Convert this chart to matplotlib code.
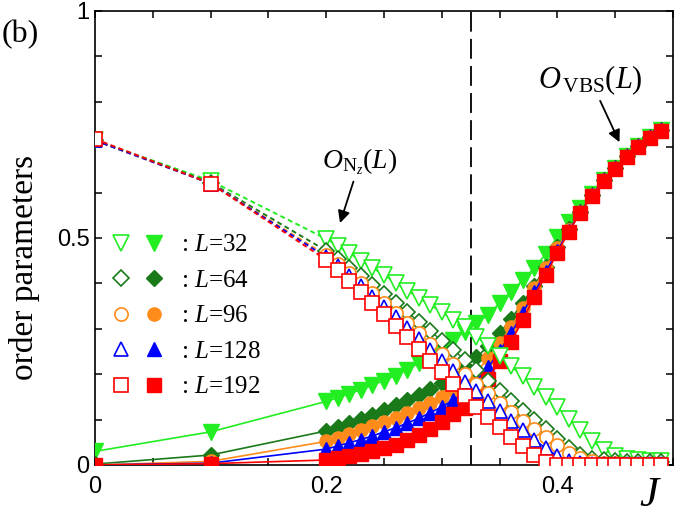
import numpy as np
import matplotlib
matplotlib.use("Agg")
import matplotlib.pyplot as plt
from matplotlib.lines import Line2D
from matplotlib.legend_handler import HandlerTuple

plt.rcParams['mathtext.fontset'] = 'custom'
plt.rcParams['mathtext.rm'] = 'Liberation Serif'
plt.rcParams['mathtext.it'] = 'Liberation Serif:italic'

# coupling values
J = [0.0, 0.1, 0.2, 0.21, 0.22, 0.23, 0.24, 0.25, 0.26, 0.27, 0.28, 0.29,
     0.30, 0.31, 0.32, 0.33, 0.34, 0.35, 0.36, 0.37, 0.38, 0.39,
     0.40, 0.41, 0.42, 0.43, 0.44, 0.45, 0.46, 0.47, 0.48, 0.49]

sizes = [32, 64, 96, 128, 192]

# O_Nz(L): open symbols
nz_32 = [0.715, 0.626, 0.498, 0.482, 0.466, 0.45, 0.434, 0.418, 0.401, 0.384, 0.368, 0.352,
         0.336, 0.32, 0.304, 0.283, 0.261, 0.239, 0.217, 0.195, 0.172, 0.15,
         0.128, 0.102, 0.076, 0.052, 0.034, 0.02, 0.014, 0.011, 0.009, 0.008]
nz_64 = [0.715, 0.622, 0.472, 0.454, 0.435, 0.416, 0.397, 0.377, 0.357, 0.337, 0.316, 0.295,
         0.274, 0.253, 0.232, 0.21, 0.186, 0.162, 0.14, 0.12, 0.1, 0.08,
         0.058, 0.038, 0.022, 0.014, 0.01, 0.008, 0.007, 0.007, 0.006, 0.006]
nz_96 = [0.715, 0.62, 0.462, 0.443, 0.422, 0.401, 0.379, 0.357, 0.335, 0.313, 0.29, 0.267,
         0.244, 0.222, 0.2, 0.179, 0.158, 0.137, 0.117, 0.098, 0.079, 0.061,
         0.043, 0.027, 0.015, 0.008, 0.005, 0.004, 0.003, 0.003, 0.003, 0.003]
nz_128 = [0.715, 0.62, 0.458, 0.438, 0.416, 0.394, 0.371, 0.348, 0.325, 0.302, 0.278, 0.254,
          0.23, 0.206, 0.183, 0.162, 0.14, 0.118, 0.097, 0.076, 0.056, 0.037,
          0.02, 0.009, 0.004, 0.003, 0.002, 0.002, 0.002, 0.002, 0.002, 0.002]
nz_192 = [0.718, 0.62, 0.452, 0.43, 0.406, 0.382, 0.357, 0.332, 0.307, 0.282, 0.256, 0.23,
          0.204, 0.178, 0.152, 0.128, 0.106, 0.084, 0.062, 0.041, 0.022, 0.006,
          0.0, 0.0, 0.0, 0.0, 0.0, 0.0, 0.0, 0.0, 0.0, 0.0]

# O_VBS(L): filled symbols
vbs_32 = [0.03, 0.073, 0.14, 0.148, 0.157, 0.166, 0.176, 0.186, 0.197, 0.21, 0.224, 0.24,
          0.257, 0.275, 0.294, 0.313, 0.33, 0.357, 0.382, 0.407, 0.434, 0.465,
          0.503, 0.536, 0.566, 0.597, 0.628, 0.655, 0.68, 0.702, 0.722, 0.737]
vbs_64 = [0.002, 0.022, 0.075, 0.083, 0.092, 0.101, 0.111, 0.121, 0.132, 0.143, 0.155, 0.167,
          0.18, 0.196, 0.215, 0.237, 0.262, 0.29, 0.322, 0.357, 0.395, 0.437,
          0.48, 0.52, 0.558, 0.595, 0.627, 0.654, 0.68, 0.702, 0.722, 0.737]
vbs_96 = [0.0, 0.008, 0.052, 0.06, 0.068, 0.076, 0.085, 0.094, 0.104, 0.114, 0.125, 0.137,
          0.15, 0.165, 0.183, 0.205, 0.235, 0.268, 0.305, 0.345, 0.39, 0.435,
          0.478, 0.518, 0.557, 0.594, 0.627, 0.654, 0.68, 0.702, 0.722, 0.737]
vbs_128 = [0.0, 0.004, 0.035, 0.042, 0.049, 0.056, 0.064, 0.073, 0.082, 0.092, 0.103, 0.115,
           0.128, 0.143, 0.16, 0.185, 0.215, 0.25, 0.29, 0.335, 0.38, 0.425,
           0.472, 0.516, 0.557, 0.594, 0.627, 0.654, 0.68, 0.702, 0.722, 0.737]
vbs_192 = [0.0, 0.003, 0.011, 0.015, 0.019, 0.024, 0.03, 0.037, 0.045, 0.055, 0.067, 0.08,
           0.095, 0.112, 0.125, 0.155, 0.19, 0.228, 0.272, 0.319, 0.371, 0.418,
           0.468, 0.514, 0.556, 0.593, 0.626, 0.653, 0.679, 0.701, 0.721, 0.736]

J_c = 0.325

nz_all = [nz_32, nz_64, nz_96, nz_128, nz_192]
vbs_all = [vbs_32, vbs_64, vbs_96, vbs_128, vbs_192]
colors = ['#22ee22', '#1a7a1a', '#ff8c1a', '#0000ff', '#ff0000']
markers = ['v', 'D', 'o', '^', 's']
msizes = [11, 8, 9.5, 10.5, 10]

fig = plt.figure(figsize=(6.75, 5.21), dpi=100)
ax = fig.add_axes([0.1407, 0.1075, 0.8563, 0.8714])

J = np.array(J)
for nz, vbs, c, m, ms in zip(nz_all, vbs_all, colors, markers, msizes):
    nz = np.array(nz)
    vbs = np.array(vbs)
    # VBS: solid line, filled symbols
    ax.plot(J, vbs, '-', color=c, lw=1.2, marker=m, ms=ms, mfc=c, mec=c, mew=1.0, zorder=3)
    # Nz: dashed between first three points, solid after
    ax.plot(J[:3], nz[:3], color=c, lw=1.4, dashes=(2.5, 1.8), zorder=2)
    ax.plot(J[2:], nz[2:], '-', color=c, lw=1.0, zorder=2)
    ax.plot(J, nz, ls='none', marker=m, ms=ms, mfc='white', mec=c, mew=1.2, zorder=4)

ax.axvline(J_c, color='black', lw=1.3, dashes=(11, 4), zorder=1)

ax.set_xlim(0, 0.5)
ax.set_ylim(0, 1)
ax.set_xticks([0, 0.2, 0.4])
ax.set_xticklabels(['0', '0.2', '0.4'])
ax.set_yticks([0, 0.5, 1])
ax.set_yticklabels(['0', '0.5', '1'])
ax.set_xticks(np.arange(0, 0.51, 0.05), minor=True)
ax.set_yticks(np.arange(0, 1.01, 0.1), minor=True)
ax.tick_params(which='both', direction='in', top=True, right=True, length=5, width=1.1,
               labelsize=17)
ax.tick_params(axis='x', pad=8)
ax.tick_params(axis='y', pad=4)
for lab in ax.get_xticklabels() + ax.get_yticklabels():
    lab.set_family('Liberation Sans')
for s in ax.spines.values():
    s.set_linewidth(1.2)

# legend
handles = []
labels = []
for L, c, m, ms in zip(sizes, colors, markers, msizes):
    h_open = Line2D([], [], ls='none', marker=m, ms=ms, mfc='white', mec=c, mew=1.2)
    h_fill = Line2D([], [], ls='none', marker=m, ms=ms, mfc=c, mec=c)
    handles.append((h_open, h_fill))
    labels.append(r': $L$=%d' % L)
ax.legend(handles, labels, handler_map={tuple: HandlerTuple(ndivide=None, pad=0)},
          loc='upper left', bbox_to_anchor=(0.015, 0.509), frameon=False,
          prop={'family': 'Liberation Serif', 'size': 18}, handlelength=2.7,
          handletextpad=0.4, labelspacing=0.52, borderpad=0, borderaxespad=0)

# annotations
ax.annotate(r'$O_{\mathrm{N}_z}(L)$', xy=(0.212, 0.533), xytext=(0.229, 0.667),
            ha='center', va='center', fontsize=20,
            arrowprops=dict(arrowstyle='-|>', color='black', lw=1.3, shrinkA=1, shrinkB=0,
                            mutation_scale=18))
ax.annotate(r'$O_{\,\mathrm{VBS}}(L)$', xy=(0.4537, 0.711), xytext=(0.4286, 0.848),
            ha='center', va='center', fontsize=22,
            arrowprops=dict(arrowstyle='-|>', color='black', lw=1.3, shrinkA=1, shrinkB=0,
                            mutation_scale=18))

fig.text(0.003, 0.933, '(b)', family='Liberation Serif', fontsize=23, va='center', ha='left')
fig.text(0.962, 0.048, 'J', family='Liberation Serif', style='italic', fontsize=31,
         va='center', ha='center')
fig.text(0.037, 0.486, 'order parameters', family='Liberation Serif', fontsize=24,
         rotation=90, va='center', ha='center')

fig.savefig('out.png', dpi=100)
